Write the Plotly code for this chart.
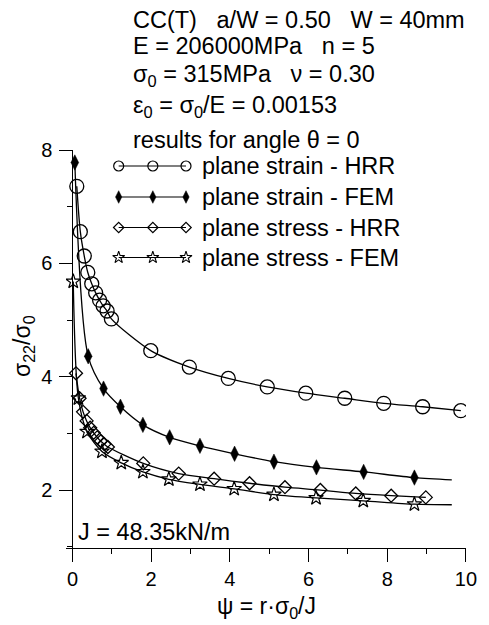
import plotly.graph_objects as go

# ---------------- data ----------------
hrr_strain_x = [0.11, 0.20, 0.30, 0.39, 0.49, 0.59, 0.69, 0.78, 0.88, 0.99,
                1.99, 2.97, 3.96, 4.95, 5.93, 6.92, 7.91, 8.90, 9.87]
hrr_strain_y = [7.36, 6.56, 6.13, 5.84, 5.64, 5.48, 5.35, 5.25, 5.16, 5.02,
                4.46, 4.17, 3.97, 3.82, 3.71, 3.62, 3.53, 3.47, 3.40]

fem_strain_x = [0.06, 0.40, 0.79, 1.22, 1.79, 2.47, 3.24, 4.12, 5.12, 6.20, 7.40, 8.69]
fem_strain_y = [7.78, 4.36, 3.79, 3.47, 3.15, 2.93, 2.78, 2.64, 2.50, 2.40, 2.32, 2.22]
fem_strain_curve_end_x = [9.64]
fem_strain_curve_end_y = [2.18]

hrr_stress_x = [0.09, 0.18, 0.27, 0.36, 0.45, 0.54, 0.63, 0.72, 0.81, 0.90,
                1.80, 2.70, 3.60, 4.50, 5.40, 6.30, 7.20, 8.10, 8.98]
hrr_stress_y = [4.06, 3.62, 3.38, 3.22, 3.10, 3.01, 2.93, 2.86, 2.81, 2.76,
                2.47, 2.29, 2.20, 2.12, 2.05, 2.00, 1.94, 1.90, 1.87]

fem_stress_x = [0.02, 0.15, 0.37, 0.75, 1.24, 1.79, 2.45, 3.24, 4.11, 5.12, 6.19, 7.39, 8.69]
fem_stress_y = [5.68, 3.62, 3.03, 2.68, 2.48, 2.32, 2.19, 2.10, 2.02, 1.92, 1.86, 1.81, 1.75]
fem_stress_curve_end_x = [9.64]
fem_stress_curve_end_y = [1.74]

series_names = ["plane strain - HRR", "plane strain - FEM",
                "plane stress - HRR", "plane stress - FEM"]

x_ticks = [0, 2, 4, 6, 8, 10]
y_ticks = [2, 4, 6, 8]

info_lines = [
    "CC(T)\u00a0\u00a0\u00a0a/W = 0.50\u00a0\u00a0\u00a0W = 40mm",
    "E = 206000MPa\u00a0\u00a0\u00a0n = 5",
    "σ<sub>0</sub> = 315MPa\u00a0\u00a0\u00a0ν = 0.30",
    "ε<sub>0</sub> = σ<sub>0</sub>/E = 0.00153",
    "results for angle θ = 0",
]
j_label = "J = 48.35kN/m"
x_title = "ψ = r·σ<sub>0</sub>/J"
y_title = "σ<sub>22</sub>/σ<sub>0</sub>"

# ---------------- layout geometry ----------------
W, H = 489, 625
ML, MR, MT, MB = 66, 13, 150, 77
PW, PH = W - ML - MR, H - MT - MB
X_MIN, X_MAX = -0.164, 10.001
Y_MIN, Y_MAX = 0.977, 8.001
FONT = "Arial, Liberation Sans, sans-serif"
BLACK = "#000000"
TXT = 23.5


def px(x):
    return (x - ML) / PW


def py(y):
    return (H - MB - y) / PH


styles = [
    dict(symbol="circle-open", size=14, color=BLACK, line=dict(width=1.3, color=BLACK)),
    dict(symbol="diamond-tall", size=11, color=BLACK, line=dict(width=0.5, color=BLACK)),
    dict(symbol="diamond-open", size=10, color=BLACK, line=dict(width=1.3, color=BLACK)),
    dict(symbol="star-open", size=11, color=BLACK, line=dict(width=1.2, color=BLACK)),
]
legend_styles = [
    dict(symbol="circle-open", size=10, color=BLACK, line=dict(width=1.2, color=BLACK)),
    dict(symbol="diamond-tall", size=9, color=BLACK, line=dict(width=0.5, color=BLACK)),
    dict(symbol="diamond-open", size=8, color=BLACK, line=dict(width=1.2, color=BLACK)),
    dict(symbol="star-open", size=9, color=BLACK, line=dict(width=1.1, color=BLACK)),
]

curves = [
    (hrr_strain_x, hrr_strain_y, hrr_strain_x, hrr_strain_y),
    (fem_strain_x, fem_strain_y, fem_strain_x + fem_strain_curve_end_x,
     fem_strain_y + fem_strain_curve_end_y),
    (hrr_stress_x, hrr_stress_y, hrr_stress_x, hrr_stress_y),
    (fem_stress_x, fem_stress_y, fem_stress_x + fem_stress_curve_end_x,
     fem_stress_y + fem_stress_curve_end_y),
]

fig = go.Figure()
for (mx, my, lx, ly), st in zip(curves, styles):
    fig.add_trace(go.Scatter(x=lx, y=ly, mode="lines",
                             line=dict(color=BLACK, width=1.3, shape="spline", smoothing=0.8),
                             showlegend=False, hoverinfo="skip"))
for (mx, my, lx, ly), st, name in zip(curves, styles, series_names):
    fig.add_trace(go.Scatter(x=mx, y=my, mode="markers", marker=st, name=name,
                             showlegend=False))

# hand-drawn legend (line with three symbols) on an overlay axis in paper units
leg_x = [120, 155, 189]
leg_rows = [166, 197, 227.5, 257.5]
for row, st in zip(leg_rows, legend_styles):
    fig.add_trace(go.Scatter(x=[px(v) for v in leg_x], y=[py(row)] * 3,
                             mode="lines+markers", line=dict(color=BLACK, width=1.2),
                             marker=st, xaxis="x2", yaxis="y2",
                             showlegend=False, hoverinfo="skip"))

annotations = []
info_rows = [20, 46, 75, 107, 140]
for txt, row in zip(info_lines, info_rows):
    annotations.append(dict(text=txt, x=px(133), y=py(row), xref="paper", yref="paper",
                            xanchor="left", yanchor="middle", showarrow=False,
                            font=dict(family=FONT, size=TXT, color=BLACK)))
for txt, row in zip(series_names, leg_rows):
    annotations.append(dict(text=txt, x=px(203), y=py(row), xref="paper", yref="paper",
                            xanchor="left", yanchor="middle", showarrow=False,
                            font=dict(family=FONT, size=TXT, color=BLACK)))
annotations.append(dict(text=j_label, x=px(76), y=py(532), xref="paper", yref="paper",
                        xanchor="left", yanchor="middle", showarrow=False,
                        font=dict(family=FONT, size=TXT, color=BLACK)))
annotations.append(dict(text=x_title, x=px(271), y=py(607), xref="paper", yref="paper",
                        xanchor="center", yanchor="middle", showarrow=False,
                        font=dict(family=FONT, size=23, color=BLACK)))
annotations.append(dict(text=y_title, x=px(22), y=py(346), xref="paper", yref="paper",
                        xanchor="center", yanchor="middle", showarrow=False, textangle=-90,
                        font=dict(family=FONT, size=23, color=BLACK)))

axis_common = dict(showgrid=False, zeroline=False, showline=True, linecolor=BLACK,
                   linewidth=1.2, ticks="outside", ticklen=13, tickwidth=1.2,
                   tickcolor=BLACK, tickfont=dict(family=FONT, size=20, color=BLACK),
                   minor=dict(ticks="outside", ticklen=5, tickwidth=1.2, tickcolor=BLACK, dtick=1))

fig.update_layout(
    width=W, height=H,
    margin=dict(l=ML, r=MR, t=MT, b=MB, pad=0),
    paper_bgcolor="white", plot_bgcolor="white",
    showlegend=False,
    xaxis=dict(range=[X_MIN, X_MAX], tickmode="array", tickvals=x_ticks,
               anchor="y", **axis_common),
    yaxis=dict(range=[Y_MIN, Y_MAX], tickmode="array", tickvals=y_ticks,
               anchor="free", position=(0 - X_MIN) / (X_MAX - X_MIN),
               ticklabelstandoff=3, **axis_common),
    xaxis2=dict(range=[0, 1], overlaying="x", visible=False, fixedrange=True),
    yaxis2=dict(range=[0, 1], overlaying="y", visible=False, fixedrange=True),
    annotations=annotations,
    font=dict(family=FONT, color=BLACK),
)

fig.write_html("out.html")
